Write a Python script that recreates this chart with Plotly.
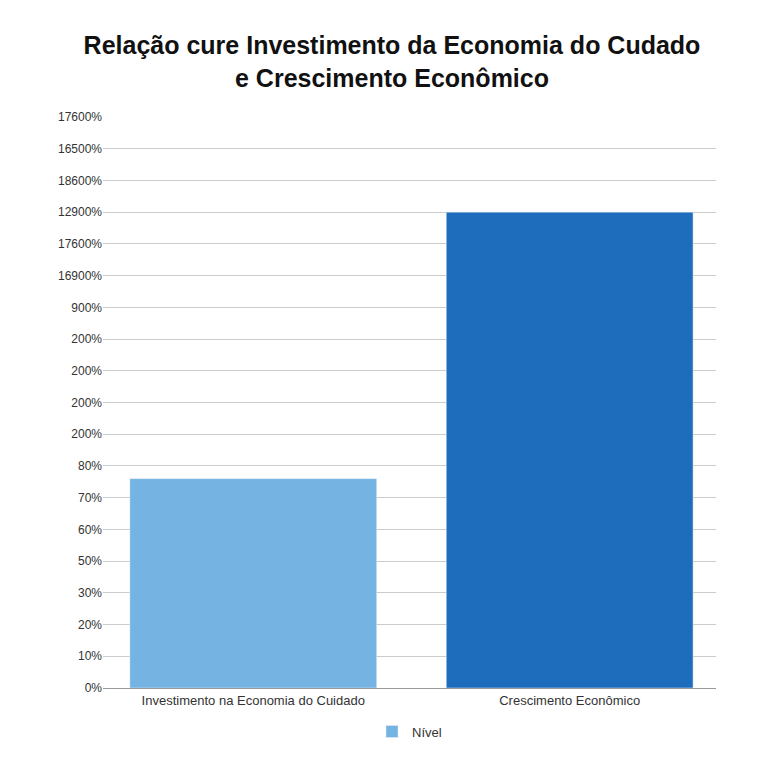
import plotly.graph_objects as go

categories = ["Investimento na Economia do Cuidado", "Crescimento Econômico"]
values = [6.6, 15.0]
tick_labels = ["0%", "10%", "20%", "30%", "50%", "60%", "70%", "80%", "200%", "200%",
               "200%", "200%", "900%", "16900%", "17600%", "12900%", "18600%", "16500%", "17600%"]
colors = ["#74b3e2", "#1e6dbd"]

fig = go.Figure()
fig.add_trace(go.Bar(x=categories, y=values, marker_color=colors, name="Nível",
                     showlegend=True, width=0.78))
fig.update_layout(
    width=768, height=768, paper_bgcolor="white", plot_bgcolor="white",
    font=dict(family="Liberation Sans, Arial, sans-serif", size=13, color="#333"),
    title=dict(text="<b>Relação cure Investimento da Economia do Cudado<br>e Crescimento Econômico</b>",
               x=0.5, y=0.94, xanchor="center", font=dict(size=25, color="#111")),
    margin=dict(l=95, r=60, t=109, b=88),
    xaxis=dict(showline=True, linecolor="#999", ticks="", tickfont=dict(size=13), automargin=False,
               range=[-0.475, 1.4625]),
    yaxis=dict(range=[0, 18], tickvals=list(range(len(tick_labels))), ticktext=tick_labels,
               gridcolor="#cccccc", zeroline=False, tickfont=dict(size=12), automargin=False),
    legend=dict(orientation="h", x=0.5, xanchor="center", y=-0.05, yanchor="top",
                font=dict(size=13)),
)
fig.write_html("out.html")
